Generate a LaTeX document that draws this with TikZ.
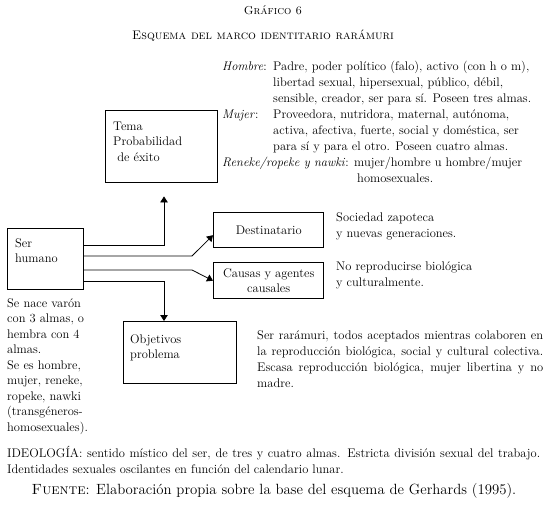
\documentclass[tikz,border=0pt]{standalone}
\usepackage{tikz}
\usetikzlibrary{arrows.meta,positioning}
\begin{document}
\begin{tikzpicture}[x=1pt,y=-1pt,
  every node/.style={font=\fontsize{12.5}{16}\selectfont,inner sep=0pt},
  tight/.style={font=\fontsize{12.5}{15.5}\selectfont},
  box/.style={draw,line width=1.4pt,rectangle,anchor=north west},
  txt/.style={anchor=north west,align=left},
  link/.style={line width=0.8pt},
  tip/.style={-{Triangle[length=6pt,width=7.5pt]}},
  band/.style={line width=1.8pt,black!35}]
  \useasboundingbox (0,0) rectangle (546,504);
  \node[anchor=base,font=\fontsize{11.5}{14}\selectfont] (grafico) at (273,14) {\textsc{Gráfico 6}};
  \node[anchor=base,font=\fontsize{12.4}{14}\selectfont] (esquema) at (263,39) {\textsc{Esquema del marco identitario rarámuri}};
  % roles (first baseline 70)
  \node[txt] (hombre) at (222,58.8) {\strut\textit{Hombre}:};
  \node[txt] (hombretxt) at (273,58.8) {\strut Padre, poder político (falo), activo (con h o m),\\libertad sexual, hipersexual, público, débil,\\sensible, creador, ser para sí. Poseen tres almas.};
  \node[txt] (mujer) at (222,106.8) {\strut\textit{Mujer}:};
  \node[txt] (mujertxt) at (273,106.8) {\strut Proveedora, nutridora, maternal, autónoma,\\activa, afectiva, fuerte, social y doméstica, ser\\para sí y para el otro. Poseen cuatro almas.};
  \node[txt] (reneke) at (222,154.8) {\strut\textit{Reneke/ropeke y nawki}: mujer/hombre u hombre/mujer\\\hspace{135pt}homosexuales.};
  % cajas
  \node[box,minimum width=112pt,minimum height=72pt] (tema) at (105,110) {};
  \node[txt,tight] (tematxt) at (113,119.2) {\strut Tema\\Probabilidad\\\ de éxito};
  \node[box,minimum width=76pt,minimum height=61pt] (ser) at (7,228) {};
  \node[txt,tight] (sertxt) at (15,236.2) {\strut Ser\\humano};
  \node[box,minimum width=110pt,minimum height=35pt,align=center] (dest) at (213,212) {Destinatario};
  \node[box,minimum width=110pt,minimum height=36pt,align=center,tight] (causas) at (213,262) {Causas y agentes\\causales};
  \node[box,minimum width=113pt,minimum height=62pt] (obj) at (123,321) {};
  \node[txt,tight] (objtxt) at (130,332.2) {\strut Objetivos\\problema};
  % conectores
  \coordinate (up) at (164,245);
  \coordinate (down) at (164,281);
  \coordinate (b1) at (192,256);
  \coordinate (b2) at (192,270);
  \draw[link,tip] (ser.east |- up) -| ([yshift=-13pt]tema.south -| up);
  \draw[link,tip] (ser.east |- down) -| (obj.north -| down);
  \draw[band] (ser.east |- b1) -- (b1);
  \draw[link,tip] (b1) -- ([yshift=-5pt]dest.west);
  \draw[band] (ser.east |- b2) -- (b2);
  \draw[link,tip] (b2) -- (causas.west);
  % textos
  \node[txt,font=\fontsize{12.5}{16.5}\selectfont] (destnota) at (336,209.5) {\strut Sociedad zapoteca\\y nuevas generaciones.};
  \node[txt] (causasnota) at (336,258.8) {\strut No reproducirse biológica\\y culturalmente.};
  \node[txt,tight] (sernota) at (7,296.2) {\strut Se nace varón\\con 3 almas, o\\hembra con 4\\almas.\\Se es hombre,\\mujer, reneke,\\ropeke, nawki\\(transgéneros-\\homosexuales).};
  \node[anchor=north west,text width=286pt,align=justify] (objnota) at (257,328.3) {\strut Ser rarámuri, todos aceptados mientras colaboren en\linebreak la reproducción biológica, social y cultural colectiva.\linebreak Escasa reproducción biológica, mujer libertina y no\linebreak madre.};
  \node[anchor=north west,text width=533pt,align=justify,tight] (ideologia) at (7,446.2) {\strut IDEOLOGÍA: sentido místico del ser, de tres y cuatro almas. Estricta división sexual del trabajo.\linebreak Identidades sexuales oscilantes en función del calendario lunar.};
  \node[anchor=base,font=\fontsize{14.8}{17}\selectfont] (fuente) at (274,494) {\textsc{Fuente}: Elaboración propia sobre la base del esquema de Gerhards (1995).};
\end{tikzpicture}
\end{document}
